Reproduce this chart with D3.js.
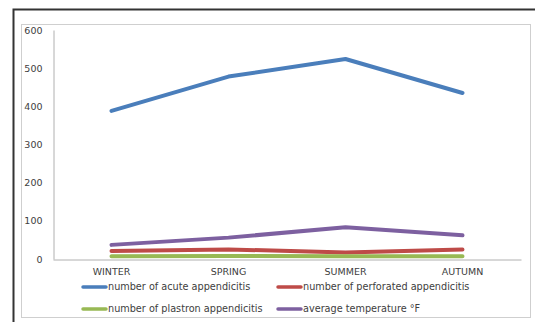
<!DOCTYPE html>
<html>
<head>
<meta charset="utf-8">
<script src="https://cdn.jsdelivr.net/npm/d3@7"></script>
<style>
  html, body { margin: 0; padding: 0; background: #fff; }
  svg { display: block; }
  text { font-family: "DejaVu Sans", Verdana, sans-serif; fill: #404040; }
</style>
</head>
<body>
<svg id="chart" width="535" height="322"></svg>
<script>
// Seasons on the x axis
const seasons = ["WINTER", "SPRING", "SUMMER", "AUTUMN"];

// Series values per season
const acute      = [388, 478, 524, 435];
const perforated = [21, 25, 17, 25];
const plastron   = [7, 8, 7, 7];
const temperature = [37, 56, 83, 62];

const seriesNames = [
  "number of acute appendicitis",
  "number of perforated appendicitis",
  "number of plastron appendicitis",
  "average temperature \u00B0F"
];
const seriesColors = ["#4A7EBB", "#BE4B48", "#98B954", "#7D60A0"];

// Y axis ticks
const yTicks = [0, 100, 200, 300, 400, 500, 600];

const series = [acute, perforated, plastron, temperature];

const svg = d3.select("#chart");

// outer frame (left and top edges)
svg.append("path")
  .attr("d", "M13.5,322 V9.5 H535")
  .attr("fill", "none")
  .attr("stroke", "#333")
  .attr("stroke-width", 2);

// chart area frame
svg.append("rect")
  .attr("x", 21.5).attr("y", 24.5)
  .attr("width", 509).attr("height", 293)
  .attr("fill", "#fff")
  .attr("stroke", "#cfcfcf")
  .attr("stroke-width", 1);

const plot = { left: 53, right: 521, top: 30, bottom: 259 };

const x = d3.scaleBand()
  .domain(seasons)
  .range([plot.left, plot.right]);

const y = d3.scaleLinear()
  .domain([0, 600])
  .range([plot.bottom, plot.top]);

// y axis
const yAxis = svg.append("g")
  .attr("transform", `translate(${plot.left + 0.5},0)`)
  .call(d3.axisLeft(y).tickValues(yTicks).tickSize(0).tickPadding(11));
yAxis.select(".domain").attr("stroke", "#b0b0b0");
yAxis.selectAll("text").style("font-size", "9.5px").attr("fill", "#404040");

// x axis
const xAxis = svg.append("g")
  .attr("transform", `translate(0,${plot.bottom + 0.5})`)
  .call(d3.axisBottom(x).tickSize(0).tickPadding(9));
xAxis.select(".domain").attr("stroke", "#b0b0b0");
xAxis.selectAll("text").style("font-size", "9.5px").attr("fill", "#404040");

// series lines
const line = d3.line()
  .x((d, i) => x(seasons[i]) + x.bandwidth() / 2)
  .y(d => y(d));

svg.append("g")
  .selectAll("path")
  .data(series)
  .join("path")
  .attr("d", d => line(d))
  .attr("fill", "none")
  .attr("stroke", (d, i) => seriesColors[i])
  .attr("stroke-width", 4)
  .attr("stroke-linecap", "round")
  .attr("stroke-linejoin", "round");

// legend: two columns, two rows
const legendPos = [
  { x: 83, y: 287 },
  { x: 278, y: 287 },
  { x: 83, y: 309 },
  { x: 278, y: 309 }
];

const legend = svg.append("g")
  .selectAll("g")
  .data(seriesNames)
  .join("g")
  .attr("transform", (d, i) => `translate(${legendPos[i].x},${legendPos[i].y})`);

legend.append("line")
  .attr("x1", 0).attr("x2", 23)
  .attr("y1", 0).attr("y2", 0)
  .attr("stroke", (d, i) => seriesColors[i])
  .attr("stroke-width", 3.5)
  .attr("stroke-linecap", "round");

legend.append("text")
  .attr("x", 25)
  .attr("y", 0)
  .attr("dy", "0.35em")
  .style("font-size", "9.7px")
  .text(d => d);
</script>
</body>
</html>
